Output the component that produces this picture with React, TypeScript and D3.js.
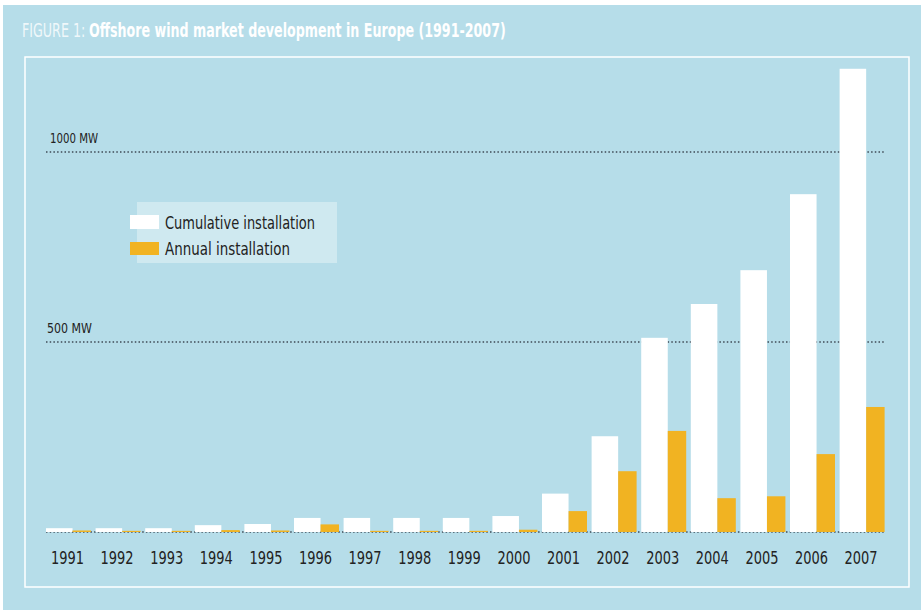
import React from 'react';
import * as d3 from 'd3';

const years = ['1991', '1992', '1993', '1994', '1995', '1996', '1997', '1998', '1999', '2000', '2001', '2002', '2003', '2004', '2005', '2006', '2007'];
const cumulative = [10, 10, 10, 18, 21, 37, 37, 37, 37, 42, 101, 252, 511, 600, 689, 889, 1219];
const annual = [4, 3, 3, 5, 4, 20, 3, 3, 3, 6, 55, 160, 266, 89, 94, 205, 329];
const gridValues = [500, 1000];
const gridLabels = ['500 MW', '1000 MW'];
const legendLabels = ['Cumulative installation', 'Annual installation'];

const W = 921;
const H = 610;
const BG = '#b6dde9';
const ORANGE = '#f1b322';
const FONT = '"Liberation Sans Narrow", "Arial Narrow", "DejaVu Sans Condensed", sans-serif';

export default function App() {
  const x = d3.scaleBand().domain(years).range([46, 884.6]).paddingInner(0.093).paddingOuter(0);
  const y = d3.scaleLinear().domain([0, 1000]).range([532, 152]);
  const bw = x.bandwidth();
  const cw = bw * 0.59;
  const aw = bw - cw;
  const sx = 0.741; // horizontal squeeze for a condensed look

  return (
    <svg width={W} height={H} style={{ position: 'absolute', left: 0, top: 0, background: '#fff' }}>
      <rect x={3} y={5} width={W - 3} height={H - 5} fill={BG} />

      {/* title */}
      <g transform={`translate(22,37) scale(${sx},1)`}>
        <text x={0} y={0} fontFamily={FONT} fontSize={19} fill="#fff" fillOpacity={0.8}>FIGURE 1:</text>
        <text x={67 / sx} y={0} fontFamily={FONT} fontSize={19} fontWeight="bold" fill="#fff">
          Offshore wind market development in Europe (1991-2007)
        </text>
      </g>

      {/* frame */}
      <rect x={25} y={57} width={884} height={530} fill="none" stroke="#fff" strokeWidth={1.5} />

      {/* gridlines */}
      {gridValues.map((v, i) => (
        <g key={v}>
          <line x1={46} x2={885} y1={y(v)} y2={y(v)} stroke="#3f4a55" strokeWidth={1.5} strokeDasharray="1.5 2.2" />
          <text x={i === 0 ? 47 : 50} y={y(v) - 9} fontFamily={FONT} fontSize={14} fill="#222"
            textLength={i === 0 ? 45 : 48} lengthAdjust="spacingAndGlyphs">
            {gridLabels[i]}
          </text>
        </g>
      ))}
      <line x1={46} x2={885} y1={y(0)} y2={y(0)} stroke="#3f4a55" strokeWidth={1.5} strokeDasharray="1.5 2.2" />

      {/* bars */}
      {years.map((yr, i) => (
        <g key={yr}>
          <rect x={x(yr)} y={y(cumulative[i])} width={cw} height={y(0) - y(cumulative[i])} fill="#fff" />
          <rect x={(x(yr) as number) + cw} y={y(annual[i])} width={aw} height={y(0) - y(annual[i])} fill={ORANGE} />
          <text x={(x(yr) as number) + bw / 2 - 17.5} y={564} fontFamily={FONT} fontSize={17} fill="#222"
            textLength={33} lengthAdjust="spacingAndGlyphs">
            {yr}
          </text>
        </g>
      ))}

      {/* legend */}
      <rect x={137} y={202} width={200} height={61} fill="#fff" fillOpacity={0.35} />
      <rect x={130} y={215} width={29} height={14} fill="#fff" />
      <rect x={130} y={242} width={29} height={13} fill={ORANGE} />
      <text x={165} y={229} fontFamily={FONT} fontSize={18} fill="#222"
        textLength={150} lengthAdjust="spacingAndGlyphs">{legendLabels[0]}</text>
      <text x={165} y={255} fontFamily={FONT} fontSize={18} fill="#222"
        textLength={125} lengthAdjust="spacingAndGlyphs">{legendLabels[1]}</text>
    </svg>
  );
}
